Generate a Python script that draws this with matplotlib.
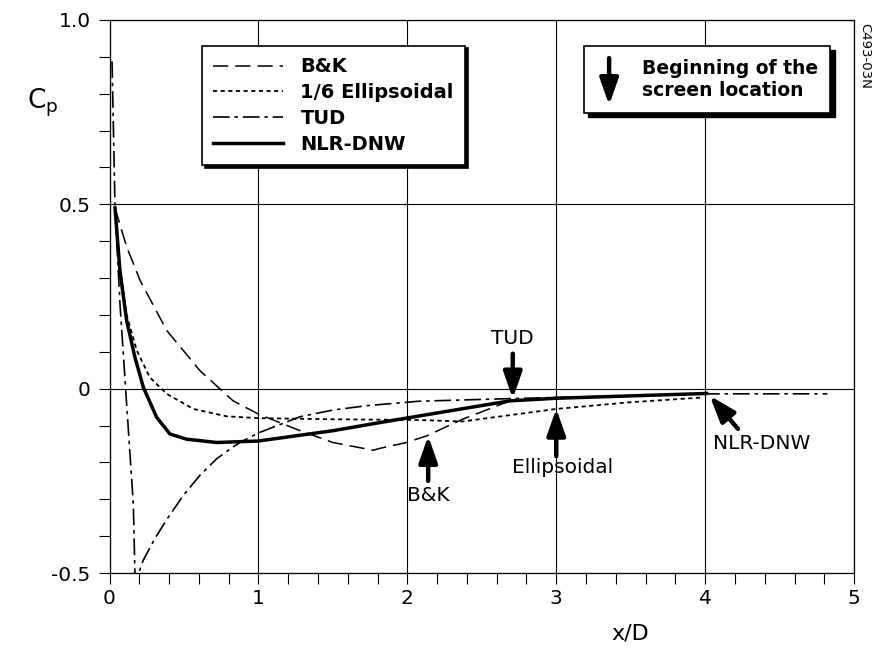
import matplotlib
matplotlib.use("Agg")
import matplotlib.pyplot as plt
from matplotlib.ticker import MultipleLocator
from matplotlib.patches import Rectangle

plt.rcParams.update({
    "font.family": ["DejaVu Sans"],
    "font.size": 14,
    "axes.linewidth": 0.9,
    "lines.scale_dashes": False,
    "mathtext.fontset": "dejavusans",
})

# B&K (dashed)
x_bk = [0.037, 0.115, 0.205, 0.384, 0.607, 0.83, 1.0, 1.28, 1.5, 1.77, 1.815, 1.995, 2.13, 2.37, 2.69, 2.75]
y_bk = [0.49, 0.385, 0.294, 0.158, 0.049, -0.033, -0.069, -0.114, -0.146, -0.167, -0.162, -0.146, -0.128, -0.083, -0.033, -0.027]

# 1/6 Ellipsoidal (dotted)
x_ell = [0.037, 0.07, 0.115, 0.183, 0.27, 0.384, 0.563, 0.787, 1.0, 1.5, 2.08, 2.37, 3.0, 3.49, 3.98]
y_ell = [0.49, 0.33, 0.2, 0.104, 0.031, -0.014, -0.055, -0.075, -0.08, -0.083, -0.085, -0.089, -0.055, -0.037, -0.024]

# TUD (dash-dot)
x_tud = [0.017, 0.037, 0.07, 0.115, 0.16, 0.171, 0.183, 0.193, 0.227, 0.3, 0.384, 0.495, 0.607, 0.72, 0.83,
         0.876, 1.0, 1.28, 1.5, 1.73, 2.08, 2.69, 4.0, 4.82]
y_tud = [0.888, 0.493, 0.232, -0.041, -0.313, -0.504, -0.56, -0.504, -0.465, -0.41, -0.355, -0.29, -0.235, -0.19, -0.158,
         -0.146, -0.12, -0.076, -0.058, -0.046, -0.034, -0.027, -0.014, -0.014]

# NLR-DNW (solid)
x_nlr = [0.037, 0.07, 0.115, 0.171, 0.227, 0.317, 0.406, 0.518, 0.72, 1.0, 1.5, 1.815, 2.08, 2.69, 3.0, 4.01]
y_nlr = [0.49, 0.32, 0.185, 0.085, 0.004, -0.078, -0.123, -0.137, -0.146, -0.142, -0.114, -0.092, -0.074, -0.033, -0.026, -0.013]

# screen location markers: label, arrow x, arrow tip y, arrow tail y
marks = [
    ("TUD", 2.708, -0.027, 0.095),
    ("B&K", 2.14, -0.128, -0.25),
    ("Ellipsoidal", 3.0, -0.054, -0.183),
]

fig = plt.figure(figsize=(8.76, 6.51), dpi=100)
ax = fig.add_axes([0.125, 0.1198, 0.850, 0.8495])

l1, = ax.plot(x_bk, y_bk, color="black", lw=1.1, linestyle=(0, (11, 5)), label="B&K")
l2, = ax.plot(x_ell, y_ell, color="black", lw=1.3, linestyle=(0, (3, 2.5)), label="1/6 Ellipsoidal")
l3, = ax.plot(x_tud, y_tud, color="black", lw=1.2, linestyle=(0, (12, 3.5, 2.5, 3.5)), label="TUD")
l4, = ax.plot(x_nlr, y_nlr, color="black", lw=2.5, label="NLR-DNW")

ax.set_xlim(0, 5)
ax.set_ylim(-0.5, 1.0)
ax.set_xticks([0, 1, 2, 3, 4, 5])
ax.set_yticks([-0.5, 0, 0.5, 1.0])
ax.set_yticklabels(["-0.5", "0", "0.5", "1.0"])
ax.xaxis.set_minor_locator(MultipleLocator(0.2))
ax.yaxis.set_minor_locator(MultipleLocator(0.1))
ax.tick_params(which="both", direction="out", length=8, width=0.8, top=False, right=False,
               labelsize=14.5)
ax.tick_params(axis="y", pad=5.5)
ax.tick_params(axis="x", pad=3.5)
ax.grid(which="major", color="black", lw=0.8)

ax.text(-0.09, 0.85, "C$_\\mathregular{p}$", transform=ax.transAxes, fontsize=19,
        ha="center", va="center")
ax.text(3.5, -0.11, "x/D", transform=ax.get_xaxis_transform(), fontsize=16,
        ha="center", va="center")

arrow_style = dict(arrowstyle="-|>,head_length=0.8,head_width=0.28", lw=3.2, color="black",
                   shrinkA=0, shrinkB=0, mutation_scale=20)

for name, xa, tip, tail in marks:
    ax.annotate("", xy=(xa, tip), xytext=(xa, tail), arrowprops=arrow_style, zorder=6)

ax.text(2.708, 0.136, "TUD", fontsize=14.5, ha="center", va="center")
ax.text(2.14, -0.289, "B&K", fontsize=14.5, ha="center", va="center")
ax.text(3.04, -0.215, "Ellipsoidal", fontsize=14.5, ha="center", va="center")

ax.annotate("", xy=(4.03, -0.019), xytext=(4.22, -0.109), arrowprops=arrow_style, zorder=6)
ax.text(4.05, -0.15, "NLR-DNW", fontsize=14.5, ha="left", va="center")

leg = ax.legend(handles=[l1, l2, l3, l4], loc="upper left", bbox_to_anchor=(0.124, 0.9535),
                borderaxespad=0, fancybox=False, edgecolor="black", framealpha=1,
                shadow={"color": "black", "alpha": 1},
                prop={"weight": "bold", "size": 14}, handlelength=3.6, handletextpad=0.87,
                labelspacing=0.35, borderpad=0.6)
leg.get_frame().set_linewidth(1.2)

# "Beginning of the screen location" box
ax.add_patch(Rectangle((0.637 + 0.006, 0.832 - 0.008), 0.331, 0.1215, transform=ax.transAxes,
                       facecolor="black", edgecolor="black", zorder=6))
ax.add_patch(Rectangle((0.637, 0.832), 0.331, 0.1215, transform=ax.transAxes,
                       facecolor="white", edgecolor="black", lw=1.2, zorder=7))
ax.annotate("", xy=(0.671, 0.846), xytext=(0.671, 0.931), xycoords="axes fraction",
            arrowprops=arrow_style, zorder=8)
ax.text(0.715, 0.893, "Beginning of the\nscreen location", transform=ax.transAxes,
        fontsize=13.5, weight="bold", ha="left", va="center", linespacing=1.2, zorder=8)

fig.text(0.987, 0.914, "C493-03N", rotation=270, fontsize=9.5, ha="center", va="center")

fig.savefig("out.png", dpi=100)
